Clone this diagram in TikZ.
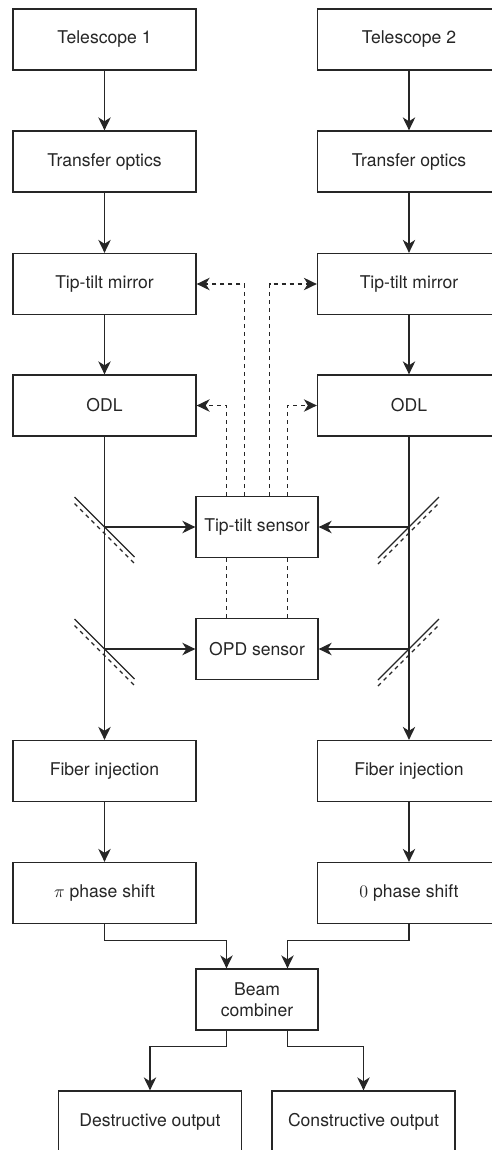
\documentclass[tikz,border=0pt]{standalone}
\usepackage{fontspec}
\setmainfont{TeX Gyre Heros}
\usetikzlibrary{arrows.meta,calc}

\begin{document}
\begin{tikzpicture}[x=0.2mm, y=-0.2mm, line width=0.75pt, black!85,
    box/.style={draw, fill=white, minimum width=36.6mm, minimum height=12.2mm,
      inner sep=0pt, align=center, font=\fontsize{10}{12}\selectfont},
    sensor/.style={box, minimum width=24.4mm},
    flow/.style={-{Stealth[length=2.6mm, width=2.5mm, inset=0.8mm]}},
    ctrl/.style={flow, dash pattern=on 0.8mm off 0.8mm}]
  \useasboundingbox (0,0) rectangle (492,1150);
  % Two telescope arms
  \node[box] (tel1) at (104.5,39.5) {Telescope 1};
  \node[box] (tel2) at (409,39.5) {Telescope 2};
  \node[box] (tro1) at (104.5,161.5) {Transfer optics};
  \node[box] (tro2) at (409,161.5) {Transfer optics};
  \node[box] (ttm1) at (104.5,284) {Tip-tilt mirror};
  \node[box] (ttm2) at (409,284) {Tip-tilt mirror};
  \node[box] (odl1) at (104.5,405.5) {ODL};
  \node[box] (odl2) at (409,405.5) {ODL};
  \node[box] (fib1) at (104.5,771) {Fiber injection};
  \node[box] (fib2) at (409,771) {Fiber injection};
  \node[box] (ps1) at (104.5,893) {$\pi$ phase shift};
  \node[box] (ps2) at (409,893) {$0$ phase shift};
  % Sensors and combiner in the middle
  \node[sensor] (tts) at (257,527) {Tip-tilt sensor};
  \node[sensor] (opd) at (257,649) {OPD sensor};
  \node[sensor] (bc) at (257,999.5) {Beam\\combiner};
  \node[box] (dout) at (150,1121.5) {Destructive output};
  \node[box] (cout) at (363.5,1121.5) {Constructive output};

  % Beam path down each arm
  \draw[flow] (tel1) -- (tro1);
  \draw[flow] (tro1) -- (ttm1);
  \draw[flow] (ttm1) -- (odl1);
  \draw[flow] (odl1) -- (fib1);
  \draw[flow] (fib1) -- (ps1);
  \draw[flow] (tel2) -- (tro2);
  \draw[flow] (tro2) -- (ttm2);
  \draw[flow] (ttm2) -- (odl2);
  \draw[flow] (odl2) -- (fib2);
  \draw[flow] (fib2) -- (ps2);

  % Pick-off mirrors
  \coordinate (bs1) at (odl1.south |- tts);
  \coordinate (bs2) at (odl1.south |- opd);
  \coordinate (bs3) at (odl2.south |- tts);
  \coordinate (bs4) at (odl2.south |- opd);
  \foreach \m in {bs1,bs2} {
    \draw (\m) ++(-30,-30) -- ++(60,60);
    \draw[dash pattern=on 0.8mm off 0.8mm] (\m) ++(-30,-23.5) -- ++(60,60);
  }
  \foreach \m in {bs3,bs4} {
    \draw (\m) ++(-31,31) -- ++(61,-61);
    \draw[dash pattern=on 0.8mm off 0.8mm] (\m) ++(-31,37) -- ++(61,-61);
  }
  \draw[flow] (bs1) -- (tts.west);
  \draw[flow] (bs3) -- (tts.east);
  \draw[flow] (bs2) -- (opd.west);
  \draw[flow] (bs4) -- (opd.east);

  % Feedback to the mirrors and delay lines
  \draw[ctrl] ([xshift=-2.5mm]tts.north) |- (ttm1.east);
  \draw[ctrl] ([xshift=2.5mm]tts.north) |- (ttm2.west);
  \draw[dash pattern=on 0.8mm off 0.8mm] ([xshift=-6.1mm]opd.north) -- ([xshift=-6.1mm]tts.south);
  \draw[dash pattern=on 0.8mm off 0.8mm] ([xshift=6.1mm]opd.north) -- ([xshift=6.1mm]tts.south);
  \draw[ctrl] ([xshift=-6.1mm]tts.north) |- (odl1.east);
  \draw[ctrl] ([xshift=6.1mm]tts.north) |- (odl2.west);

  % Recombination
  \draw[flow] (ps1.south) -- ++(0,16) -| ([xshift=-6.1mm]bc.north);
  \draw[flow] (ps2.south) -- ++(0,16) -| ([xshift=6.1mm]bc.north);
  \draw[flow] ([xshift=-6.1mm]bc.south) -- ++(0,16) -| (dout.north);
  \draw[flow] ([xshift=6.1mm]bc.south) -- ++(0,16) -| (cout.north);
\end{tikzpicture}
\end{document}
